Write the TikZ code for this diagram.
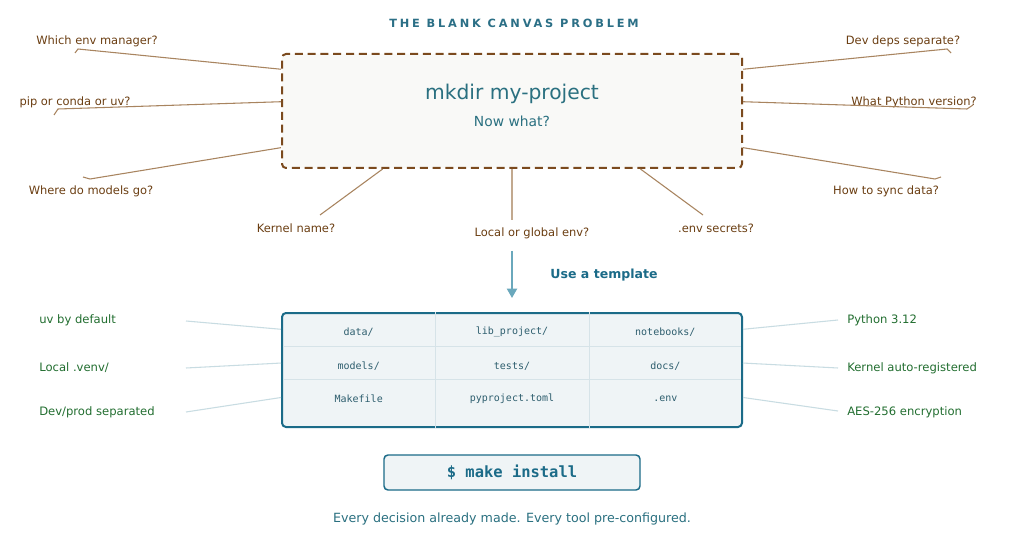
\documentclass[tikz,border=0pt]{standalone}
\usepackage{fontspec}
\setmainfont{DejaVu Sans}
\setmonofont{DejaVu Sans Mono}
\newfontfamily\spacedbold[LetterSpace=25]{DejaVu Sans Bold}
\usetikzlibrary{arrows.meta,calc,positioning}

\definecolor{canvasline}{HTML}{7B4A1E}
\definecolor{canvasfill}{HTML}{F9F9F7}
\definecolor{qline}{HTML}{A8845F}
\definecolor{qtext}{HTML}{6B3E12}
\definecolor{tealdark}{HTML}{1B6B88}
\definecolor{tealtext}{HTML}{2A7080}
\definecolor{tmplfill}{HTML}{EFF4F6}
\definecolor{celltext}{HTML}{2E5E6E}
\definecolor{gridline}{HTML}{D6E3E8}
\definecolor{sideline}{HTML}{C8DCE2}
\definecolor{goodtext}{HTML}{226E30}
\definecolor{flowline}{HTML}{6AA8BC}
\definecolor{heading}{HTML}{2B6F86}

\begin{document}
\begin{tikzpicture}[x=0.75pt,y=-0.75pt,
  question/.style={text=qtext,font=\fontsize{8.6}{10}\selectfont,inner sep=0pt},
  answer/.style={text=goodtext,font=\fontsize{8.7}{10}\selectfont,inner sep=0pt,anchor=west},
  qline/.style={draw=qline,line width=0.8pt},
  aline/.style={draw=sideline,line width=0.8pt},
  cell/.style={text=celltext,font=\ttfamily\fontsize{7.5}{9}\selectfont,inner sep=0pt},
  canvas/.style={draw=canvasline,fill=canvasfill,line width=1.5pt,
    dash pattern=on 6pt off 3.6pt,rounded corners=3pt,
    minimum width=345pt,minimum height=85.5pt},
  tmplbox/.style={draw=tealdark,fill=tmplfill,line width=1.5pt,rounded corners=3pt},
  flow/.style={draw=flowline,line width=1.5pt,-{Triangle[width=7.5pt,length=7pt]}}]

\fill[white] (0,0) rectangle (1024,538);
\useasboundingbox (0,0) rectangle (1024,538);

\node[text=heading,font=\spacedbold\fontsize{8.5}{10}\selectfont] (title) at (514,23) {THE BLANK CANVAS PROBLEM};

% the empty project
\node[canvas] (top) at (512,111) {};
\node[text=tealtext,font=\fontsize{15.2}{18}\selectfont] (mkdir) at (512,94) {mkdir my-project};
\node[text=tealtext,font=\fontsize{10.4}{12}\selectfont] (now) at (512,121) {Now what?};

% open questions
\node[question] (q1) at (97,41) {Which env manager?};
\node[question] (q2) at (75,102) {pip or conda or uv?};
\node[question] (q3) at (91,191) {Where do models go?};
\node[question] (q4) at (296,228) {Kernel name?};
\node[question] (q5) at (532,233) {Local or global env?};
\node[question] (q6) at (716,228) {.env secrets?};
\node[question] (q7) at (903,41) {Dev deps separate?};
\node[question] (q8) at (914,102) {What Python version?};
\node[question] (q9) at (886,191) {How to sync data?};

\coordinate (e1) at (78,49);
\coordinate (e2) at (58,109);
\coordinate (e3) at (90,179);
\coordinate (e4) at (320,215);
\coordinate (e5) at (512,220);
\coordinate (e6) at (703,215);
\coordinate (e7) at (947,49);
\coordinate (e8) at (967,109);
\coordinate (e9) at (935,179);

\draw[qline] ($(top.north west)!0.14!(top.south west)$) -- (e1) -- ++(-3,4);
\draw[qline] ($(top.north west)!0.42!(top.south west)$) -- (e2) -- ++(-4,6);
\draw[qline] ($(top.north west)!0.816!(top.south west)$) -- (e3) -- ++(-7,-2);
\draw[qline] ($(top.south west)!0.22!(top.south east)$) -- (e4);
\draw[qline,draw=qline!70,line width=1.5pt] (top.south) -- (e5);
\draw[qline] ($(top.south west)!0.778!(top.south east)$) -- (e6);
\draw[qline] ($(top.north east)!0.14!(top.south east)$) -- (e7) -- ++(4,4);
\draw[qline] ($(top.north east)!0.42!(top.south east)$) -- (e8) -- ++(6,-4);
\draw[qline] ($(top.north east)!0.816!(top.south east)$) -- (e9) -- ++(6,-2);

% the way out
\draw[flow] (512,251) -- (512,298);
\node[text=tealdark,font=\bfseries\fontsize{9.4}{11}\selectfont] (use) at (604,275) {Use a template};

\node[tmplbox,minimum width=345pt,minimum height=85.5pt] (tmpl) at (512,370) {};
\draw[gridline,line width=0.6pt] ($(tmpl.north west)!1/3!(tmpl.north east)$) -- ($(tmpl.south west)!1/3!(tmpl.south east)$);
\draw[gridline,line width=0.6pt] ($(tmpl.north west)!2/3!(tmpl.north east)$) -- ($(tmpl.south west)!2/3!(tmpl.south east)$);
\draw[gridline,line width=0.6pt] (283,346) -- (741,346);
\draw[gridline,line width=0.6pt] (283,379) -- (741,379);

\node[cell] (c11) at (358.7,332) {data/};
\node[cell] (c12) at (512,332) {lib\_project/};
\node[cell] (c13) at (665.3,332) {notebooks/};
\node[cell] (c21) at (358.7,366) {models/};
\node[cell] (c22) at (512,366) {tests/};
\node[cell] (c23) at (665.3,366) {docs/};
\node[cell] (c31) at (358.7,399) {Makefile};
\node[cell] (c32) at (512,399) {pyproject.toml};
\node[cell] (c33) at (665.3,399) {.env};

% settled answers
\node[answer] (a1) at (39,320) {uv by default};
\node[answer] (a2) at (39,368) {Local .venv/};
\node[answer] (a3) at (39,412) {Dev/prod separated};
\node[answer] (a4) at (847,320) {Python 3.12};
\node[answer] (a5) at (847,368) {Kernel auto-registered};
\node[answer] (a6) at (847,412) {AES-256 encryption};

\coordinate (f1) at (186,321);
\coordinate (f2) at (186,368);
\coordinate (f3) at (186,412);
\coordinate (f4) at (838,320);
\coordinate (f5) at (838,368);
\coordinate (f6) at (838,411);

\draw[aline] (f1) -- ($(tmpl.north west)!0.149!(tmpl.south west)$);
\draw[aline] (f2) -- ($(tmpl.north west)!0.44!(tmpl.south west)$);
\draw[aline] (f3) -- ($(tmpl.north west)!0.737!(tmpl.south west)$);
\draw[aline] (f4) -- ($(tmpl.north east)!0.149!(tmpl.south east)$);
\draw[aline] (f5) -- ($(tmpl.north east)!0.44!(tmpl.south east)$);
\draw[aline] (f6) -- ($(tmpl.north east)!0.737!(tmpl.south east)$);

\node[tmplbox,line width=1.1pt,minimum width=192pt,minimum height=26.25pt,
  text=tealdark,font=\ttfamily\bfseries\fontsize{11.6}{14}\selectfont] (make) at (512,472.5) {\$ make install};

\node[text=tealtext,font=\fontsize{9.5}{11}\selectfont] (tagline) at (512,519) {Every decision already made. Every tool pre-configured.};
\end{tikzpicture}
\end{document}
